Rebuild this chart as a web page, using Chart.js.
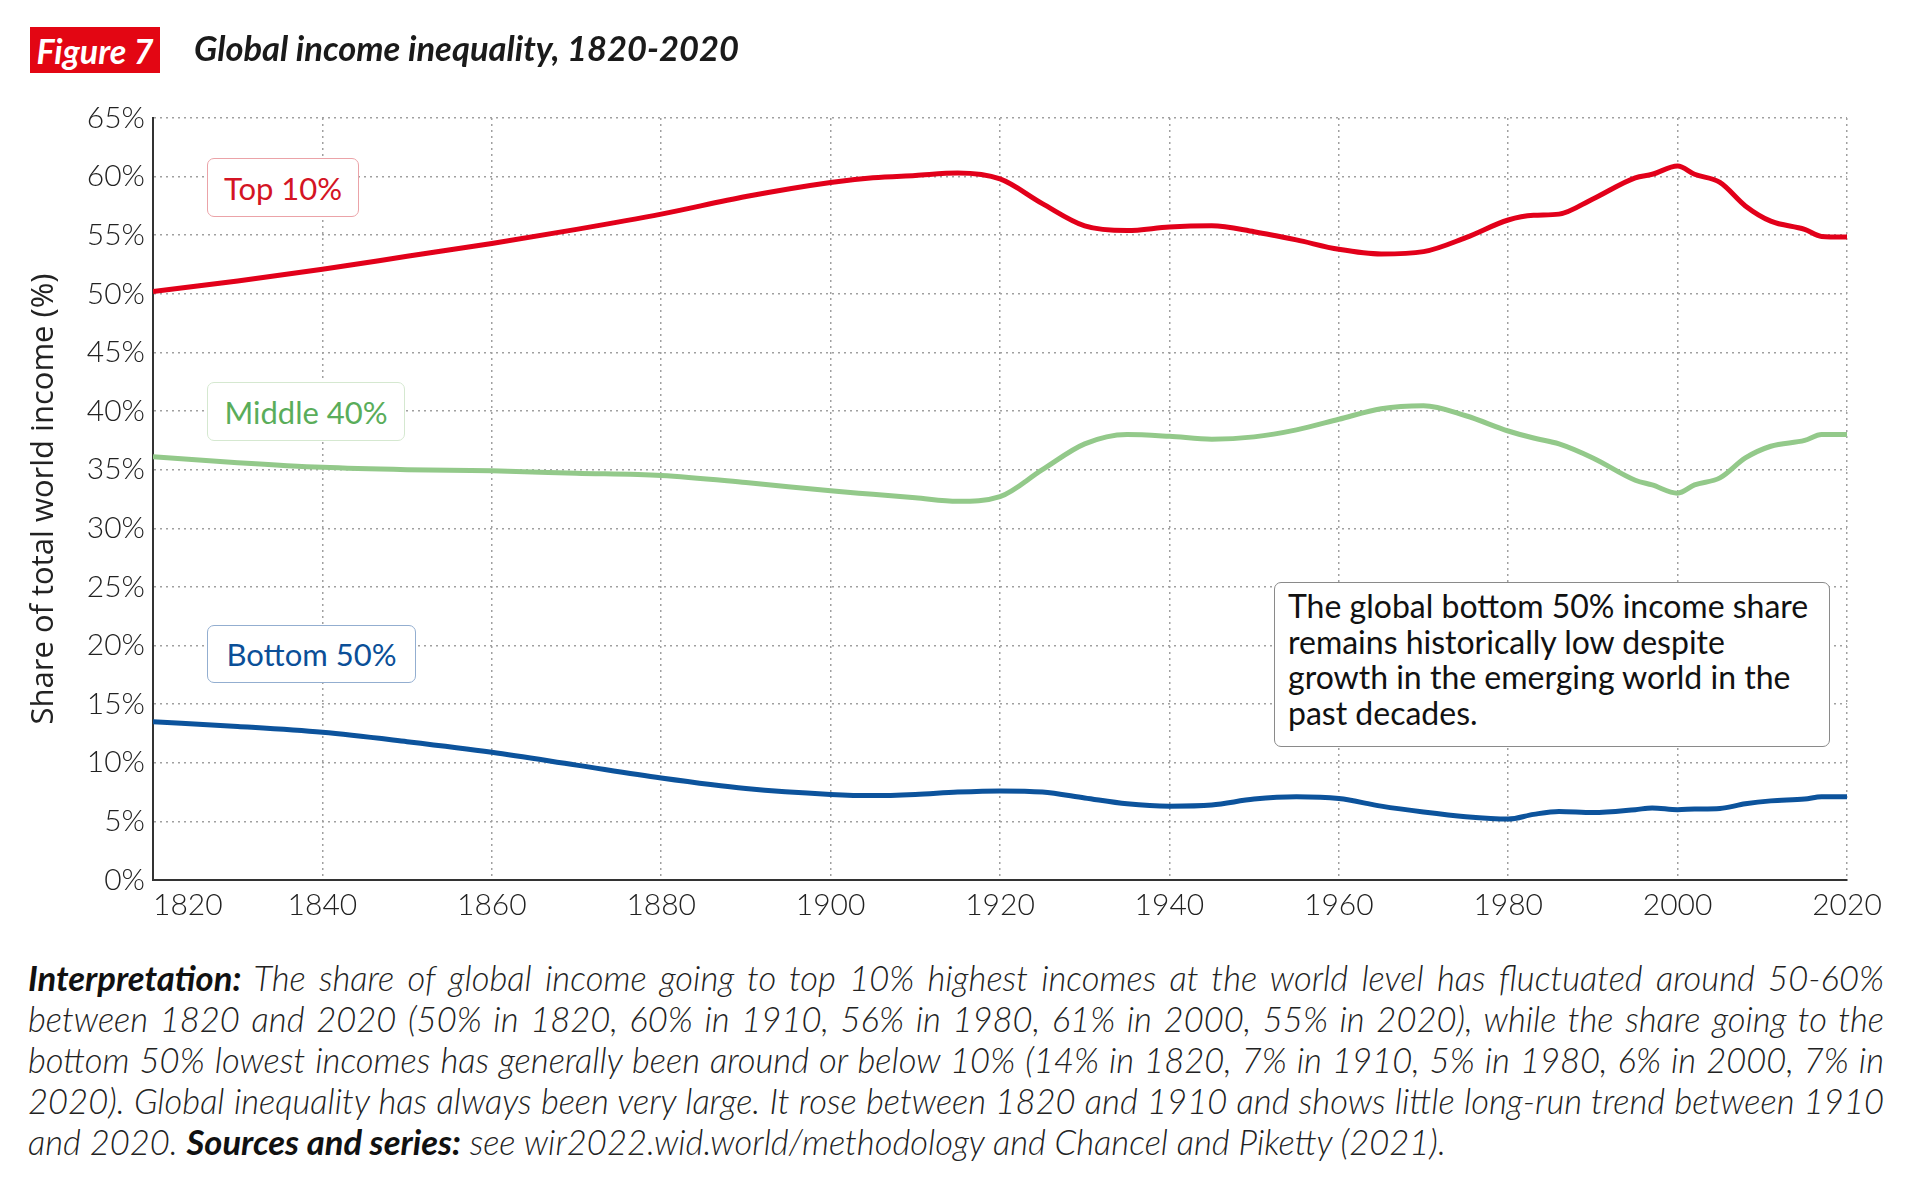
<!DOCTYPE html>
<html>
<head>
<meta charset="utf-8">
<script src="https://cdn.jsdelivr.net/npm/chart.js@4"></script>
<style>
  html, body { margin: 0; padding: 0; background: #fff; }
  body { width: 1920px; height: 1192px; position: relative; overflow: hidden; font-family: "Lato", sans-serif; color: #1a1a1a; }
  #chart { position: absolute; left: 0; top: 0; }
  .fig { position: absolute; left: 30px; top: 27px; width: 130px; height: 46px; background: #e30613; color: #fff;
    font: italic 700 34px "Lato", sans-serif; display: flex; align-items: center; justify-content: center; }
  .title { position: absolute; left: 194px; top: 29px; font: italic 700 34.5px/38px "Lato", sans-serif; color: #1a1a1a; }
  .tag { position: absolute; background: #fff; border-radius: 7px; display: flex; align-items: center; justify-content: center;
    font: 400 31px "Lato", sans-serif; box-sizing: border-box; }
  .note { position: absolute; left: 1274px; top: 582px; width: 556px; height: 165px; box-sizing: border-box; background: #fff;
    border: 1.5px solid #8a8a8a; border-radius: 7px; padding: 5px 0 0 13px; white-space: nowrap;
    font: 400 32px/35.5px "Lato", sans-serif; color: #111; }
  .foot { position: absolute; left: 28px; top: 957px; width: 1856px; font: italic 300 34.6px/41px "Lato", sans-serif; color: #222; }
  .foot div { white-space: nowrap; text-align: justify; text-align-last: justify; }
  .foot div.last { text-align-last: left; }
  .foot b { font-weight: 700; color: #111; }
</style>
</head>
<body>
<canvas id="chart" width="1920" height="940"></canvas>
<div class="fig">Figure 7</div>
<div class="title">Global income inequality, 1820-2020</div>
<div class="tag" style="left:207px;top:158px;width:152px;height:59px;color:#d41424;border:1.5px solid #eba3a8;">Top 10%</div>
<div class="tag" style="left:207px;top:382px;width:198px;height:59px;color:#5aad5a;border:1.5px solid #d5e8d0;">Middle 40%</div>
<div class="tag" style="left:207px;top:625px;width:209px;height:58px;color:#0b4f98;border:1.5px solid #93aed0;">Bottom 50%</div>
<div class="note">The global bottom 50% income share<br>remains historically low despite<br>growth in the emerging world in the<br>past decades.</div>
<div class="foot">
  <div><b>Interpretation:</b> The share of global income going to top 10% highest incomes at the world level has fluctuated around 50-60%</div>
  <div>between 1820 and 2020 (50% in 1820, 60% in 1910, 56% in 1980, 61% in 2000, 55% in 2020), while the share going to the</div>
  <div>bottom 50% lowest incomes has generally been around or below 10% (14% in 1820, 7% in 1910, 5% in 1980, 6% in 2000, 7% in</div>
  <div>2020). Global inequality has always been very large. It rose between 1820 and 1910 and shows little long-run trend between 1910</div>
  <div class="last">and 2020. <b>Sources and series:</b> see wir2022.wid.world/methodology and Chancel and Piketty (2021).</div>
</div>
<script>
const years = [1820, 1830, 1840, 1850, 1860, 1870, 1880, 1890, 1900, 1905, 1910, 1915, 1920, 1925, 1930, 1935, 1940, 1945, 1950, 1955,
  1960, 1965, 1970, 1975, 1980, 1983, 1986, 1990, 1995, 1997, 2000, 2002, 2005, 2008, 2011, 2015, 2017, 2020];
const top10 = [50.2, 51.1, 52.1, 53.2, 54.3, 55.5, 56.8, 58.3, 59.5, 59.9, 60.1, 60.3, 59.8, 57.7, 55.8, 55.4, 55.7, 55.8, 55.3, 54.6,
  53.8, 53.4, 53.6, 54.8, 56.3, 56.7, 56.8, 58.1, 59.9, 60.2, 60.9, 60.2, 59.5, 57.5, 56.2, 55.5, 54.9, 54.85];
const middle40 = [36.1, 35.6, 35.2, 35.0, 34.9, 34.7, 34.5, 33.9, 33.2, 32.9, 32.6, 32.3, 32.7, 35.0, 37.2, 38.0, 37.85, 37.6, 37.8, 38.4,
  39.3, 40.2, 40.45, 39.6, 38.3, 37.7, 37.2, 36.0, 34.1, 33.7, 33.0, 33.7, 34.3, 36.0, 37.0, 37.5, 38.0, 38.0];
const bottom50 = [13.5, 13.1, 12.6, 11.8, 10.9, 9.8, 8.7, 7.8, 7.3, 7.2, 7.3, 7.5, 7.6, 7.5, 7.0, 6.5, 6.3, 6.4, 6.9, 7.1,
  6.95, 6.3, 5.8, 5.4, 5.2, 5.6, 5.85, 5.75, 6.0, 6.15, 6.0, 6.05, 6.1, 6.5, 6.75, 6.9, 7.1, 7.1];
const yearTicks = [1820, 1840, 1860, 1880, 1900, 1920, 1940, 1960, 1980, 2000, 2020];

const toPoints = (vals) => years.map((y, i) => ({ x: y, y: vals[i] }));

const lineSet = (label, vals, color) => ({
  label: label,
  data: toPoints(vals),
  borderColor: color,
  borderWidth: 5,
  pointRadius: 0,
  cubicInterpolationMode: "monotone",
  fill: false,
});

const gridStyle = { color: "#a0a0a0", lineWidth: 1.5, drawTicks: false };
const tickFont = { family: "Lato", size: 30, weight: "300" };

new Chart(document.getElementById("chart"), {
  type: "line",
  data: {
    datasets: [
      lineSet("Top 10%", top10, "#e2001a"),
      lineSet("Middle 40%", middle40, "#93c98a"),
      lineSet("Bottom 50%", bottom50, "#0c539c"),
    ],
  },
  options: {
    responsive: false,
    animation: false,
    devicePixelRatio: 1,
    layout: { padding: { top: 118, right: 73, left: 0, bottom: 0 } },
    plugins: { legend: { display: false }, tooltip: { enabled: false } },
    scales: {
      x: {
        type: "linear",
        min: 1820,
        max: 2020,
        afterBuildTicks: (s) => { s.ticks = yearTicks.map((v) => ({ value: v })); },
        afterFit: (s) => { s.height = 60; },
        grid: gridStyle,
        border: { display: true, color: "#333", width: 2, dash: [2, 4] },
        ticks: {
          padding: 7,
          color: "#222",
          font: tickFont,
          maxRotation: 0,
          // first year label sits just right of the y axis in the original
          callback: (v, i) => (i === 0 ? "\u2007\u2007\u2007\u2007" + v : String(v)),
        },
      },
      y: {
        min: 0,
        max: 65,
        afterFit: (s) => { s.width = 153; },
        grid: gridStyle,
        border: { display: true, color: "#333", width: 2, dash: [2, 4] },
        ticks: {
          stepSize: 5,
          padding: 8,
          color: "#222",
          font: tickFont,
          callback: (v) => v + "%",
        },
        title: {
          display: true,
          text: "Share of total world income (%)",
          color: "#222",
          font: { family: "Open Sans", size: 31, weight: "400" },
          padding: { top: 26, bottom: 0 },
        },
      },
    },
  },
});
</script>
</body>
</html>
